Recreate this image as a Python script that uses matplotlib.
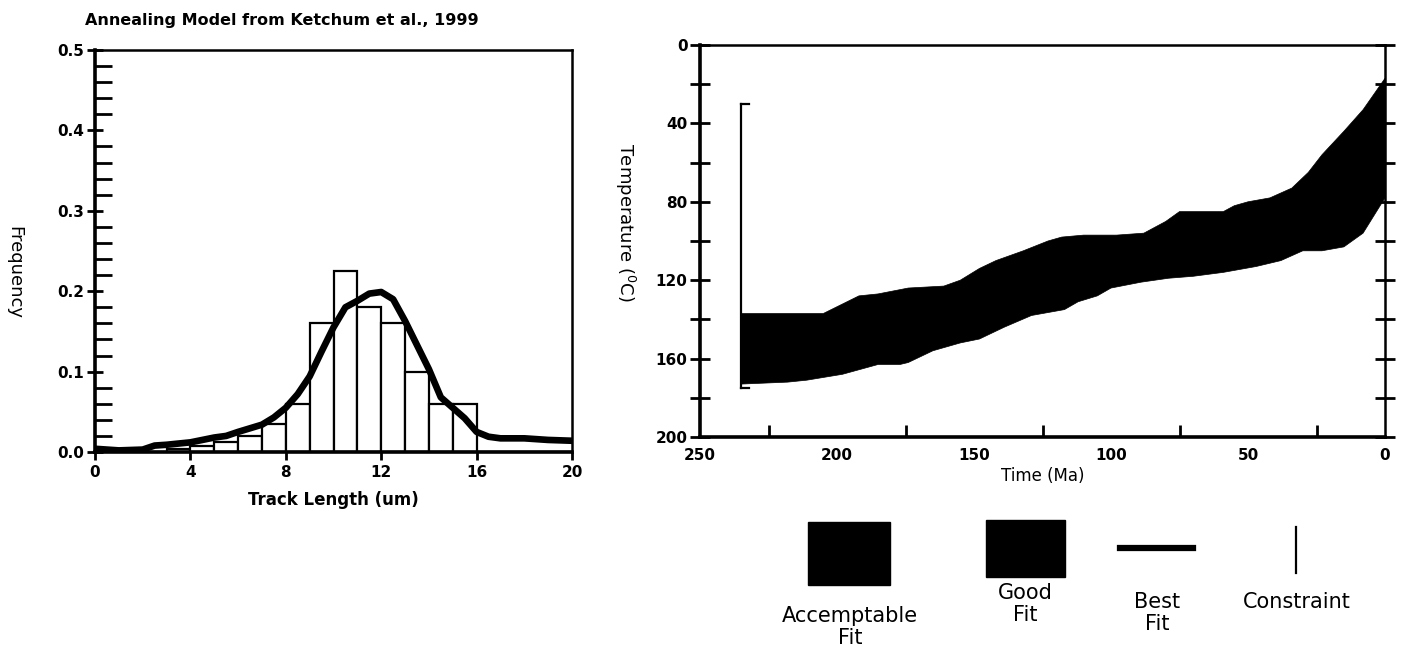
import numpy as np
import matplotlib.pyplot as plt
from matplotlib.patches import Rectangle
from matplotlib.lines import Line2D

plt.rcParams['font.family'] = ['DejaVu Sans']

# --- track length histogram (left) ---
bin_left = np.arange(0, 20)
freq = [0, 0, 0, 0.004, 0.008, 0.012, 0.02, 0.035, 0.06, 0.16,
        0.225, 0.18, 0.16, 0.10, 0.06, 0.06, 0, 0, 0, 0]

curve_x = [0, 1, 2, 2.5, 3, 4, 5, 5.5, 6, 7, 7.5, 8, 8.5, 9, 9.5, 10, 10.5,
           11, 11.5, 12, 12.5, 13, 13.5, 14, 14.5, 15, 15.5, 16, 16.5, 17,
           18, 19, 20]
curve_y = [0.004, 0.002, 0.003, 0.008, 0.009, 0.012, 0.018, 0.02, 0.025,
           0.034, 0.043, 0.055, 0.072, 0.094, 0.125, 0.155, 0.18, 0.188,
           0.197, 0.199, 0.19, 0.163, 0.133, 0.103, 0.068, 0.055, 0.042,
           0.025, 0.019, 0.017, 0.017, 0.015, 0.014]

# --- time-temperature envelope (right) ---
up_t = [235, 205, 192, 185, 174, 161, 155, 148, 142, 132, 123, 118, 110, 98,
        88, 80, 75, 64, 59, 55, 50, 42, 34, 28, 23, 15, 8, 0]
up_T = [137, 137, 128, 127, 124, 123, 120, 114, 110, 105, 100, 98, 97, 97,
        96, 90, 85, 85, 85, 82, 80, 78, 73, 65, 56, 44, 33, 17]
lo_t = [235, 218, 211, 198, 185, 177, 174, 165, 155, 148, 139, 129, 117, 112,
        105, 100, 89, 79, 70, 59, 47, 38, 30, 23, 15, 8, 0]
lo_T = [173, 172, 171, 168, 163, 163, 162, 156, 152, 150, 144, 138, 135, 131,
        128, 124, 121, 119, 118, 116, 113, 110, 105, 105, 103, 96, 78]

con_t = 235
con_top, con_bot = 30, 175

legend_labels = ['Accemptable\nFit', 'Good\nFit', 'Best\nFit', 'Constraint']

W, H = 1409, 652
fig = plt.figure(figsize=(W / 100, H / 100), dpi=100)

def fx(px):
    return px / W

def fy(py):
    return 1 - py / H

# left panel
ax1 = fig.add_axes([fx(95), fy(452), fx(572 - 95), (452 - 50) / H])
ax1.bar(bin_left, freq, width=1, align='edge', color='white',
        edgecolor='black', linewidth=1.6, zorder=2)
ax1.plot(curve_x, curve_y, color='black', lw=4.8, solid_joinstyle='round',
         solid_capstyle='round', zorder=3)
ax1.set_xlim(0, 20)
ax1.set_ylim(0, 0.5)
ax1.set_xticks([0, 4, 8, 12, 16, 20])
ax1.set_yticks(np.arange(0, 0.51, 0.1))
ax1.set_yticklabels(['0.0', '0.1', '0.2', '0.3', '0.4', '0.5'])
ax1.set_yticks(np.arange(0, 0.5, 0.02), minor=True)
ax1.tick_params(axis='y', which='major', direction='inout', length=12, width=2,
                pad=2)
ax1.tick_params(axis='y', which='minor', direction='in', length=12, width=2)
ax1.tick_params(axis='x', which='major', direction='out', length=6, width=2)
ax1.tick_params(labelsize=11)
for lab in ax1.get_xticklabels() + ax1.get_yticklabels():
    lab.set_fontweight('bold')
ax1.spines['left'].set_linewidth(2.6)
ax1.spines['bottom'].set_linewidth(2.6)
ax1.spines['top'].set_linewidth(1.8)
ax1.spines['right'].set_linewidth(1.8)
ax1.set_xlabel('Track Length (um)', fontsize=12, fontweight='bold', labelpad=8)
fig.text(fx(85), fy(20), 'Annealing Model from Ketchum et al., 1999',
         fontsize=11.5, fontweight='bold', ha='left', va='center')
fig.text(fx(14), fy(272), 'Frequency', fontsize=13, rotation=-90,
         ha='center', va='center')

# right panel
ax2 = fig.add_axes([fx(700), fy(437), fx(1385 - 700), (437 - 45) / H])
poly_t = np.concatenate([up_t, lo_t[::-1]])
poly_T = np.concatenate([up_T, lo_T[::-1]])
ax2.fill(poly_t, poly_T, color='black', lw=0.5, zorder=2)
ax2.plot([con_t, con_t], [con_top, con_bot], color='black', lw=1.6, zorder=3)
ax2.plot([con_t, con_t - 3], [con_top, con_top], color='black', lw=1.6)
ax2.plot([con_t, con_t - 3], [con_bot, con_bot], color='black', lw=1.6)
ax2.set_xlim(250, 0)
ax2.set_ylim(200, 0)
ax2.set_xticks([250, 200, 150, 100, 50, 0])
ax2.set_xticks([225, 175, 125, 75, 25], minor=True)
ax2.set_yticks([0, 40, 80, 120, 160, 200])
ax2.set_yticks([20, 60, 100, 140, 180], minor=True)
ax2.tick_params(axis='x', which='major', length=0, pad=8)
ax2.tick_params(axis='x', which='minor', direction='in', length=9, width=2)
ax2.tick_params(axis='y', which='both', direction='inout', length=14, width=2,
                right=True, pad=2)
ax2.tick_params(labelsize=11)
for lab in ax2.get_xticklabels() + ax2.get_yticklabels():
    lab.set_fontweight('bold')
for side in ['left', 'bottom']:
    ax2.spines[side].set_linewidth(2.6)
for side in ['top', 'right']:
    ax2.spines[side].set_linewidth(1.8)
ax2.set_xlabel('Time (Ma)', fontsize=12, labelpad=3)
fig.text(fx(625), fy(222), 'Temperature ($\\mathregular{^0}$C)', fontsize=13,
         rotation=-90, ha='center', va='center')

# legend
fig.patches.append(Rectangle((fx(808), fy(585)), fx(82), 63 / H,
                             transform=fig.transFigure, color='black'))
fig.patches.append(Rectangle((fx(986), fy(577)), fx(79), 57 / H,
                             transform=fig.transFigure, color='black'))
fig.lines.append(Line2D([fx(1120), fx(1193)], [fy(548), fy(548)],
                        transform=fig.transFigure, color='black', lw=4.5))
fig.lines.append(Line2D([fx(1296), fx(1296)], [fy(527), fy(573)],
                        transform=fig.transFigure, color='black', lw=1.6))
label_pos = [(850, 606), (1025, 583), (1157, 592), (1297, 592)]
for lbl, (px, py) in zip(legend_labels, label_pos):
    fig.text(fx(px), fy(py), lbl, fontsize=15, ha='center', va='top',
             linespacing=1.1)

fig.savefig('out.png', dpi=100)
